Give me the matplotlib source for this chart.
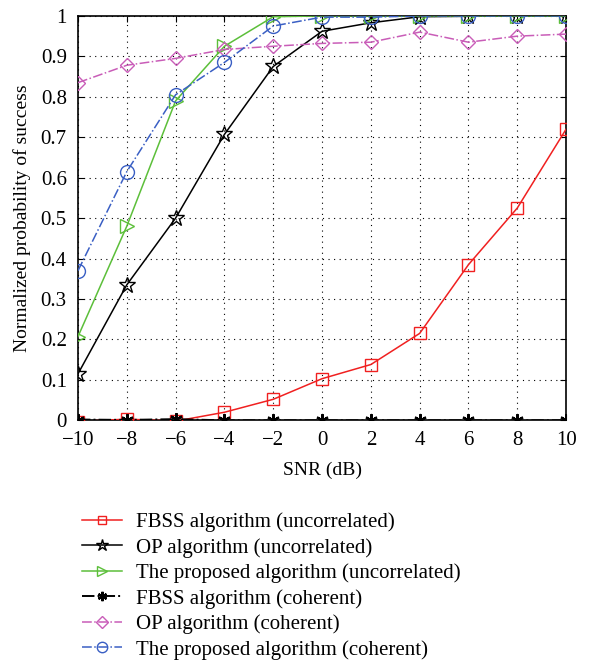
import matplotlib
matplotlib.use("Agg")
import matplotlib.pyplot as plt

snr = [-10, -8, -6, -4, -2, 0, 2, 4, 6, 8, 10]
fbss_unc = [-0.003, 0.003, -0.002, 0.02, 0.052, 0.103, 0.138, 0.215, 0.385, 0.525, 0.72]
op_unc = [0.115, 0.335, 0.5, 0.707, 0.875, 0.962, 0.983, 0.998, 0.999, 1.0, 1.0]
prop_unc = [0.207, 0.48, 0.79, 0.925, 0.998, 1.0, 1.0, 1.0, 1.0, 1.0, 1.0]
fbss_coh = [0.002, 0.001, 0.003, 0.0, 0.0, 0.0, 0.0, 0.0, 0.0, 0.0, 0.0]
op_coh = [0.835, 0.878, 0.895, 0.917, 0.925, 0.932, 0.935, 0.96, 0.935, 0.95, 0.955]
prop_coh = [0.37, 0.615, 0.805, 0.885, 0.975, 0.997, 0.997, 1.0, 1.0, 1.0, 1.0]

labels = ["FBSS algorithm (uncorrelated)", "OP algorithm (uncorrelated)",
          "The proposed algorithm (uncorrelated)", "FBSS algorithm (coherent)",
          "OP algorithm (coherent)", "The proposed algorithm (coherent)"]

plt.rcParams['font.family'] = ['Liberation Serif', 'DejaVu Serif']

fig = plt.figure(figsize=(6.14, 6.63), dpi=100)
ax = fig.add_axes([0.127, 0.366, 0.795, 0.61])

red = '#f02020'
green = '#5cbf3a'
magenta = '#c95db8'
blue = '#3a5fc4'

ax.plot(snr, fbss_unc, '-', color=red, marker='s', ms=8.5, mfc='none', mec=red, lw=1.1, label=labels[0], zorder=3)
ax.plot(snr, op_unc, '-', color='black', marker='*', ms=12, mfc='none', mec='black', lw=1.1, label=labels[1], zorder=3)
ax.plot(snr, prop_unc, '-', color=green, marker='>', ms=10, mfc='none', mec=green, lw=1.1, label=labels[2], zorder=3)
ax.plot(snr, fbss_coh, '-.', color='black', marker=(6, 2, 0), ms=9, mew=1.6, mec='black', lw=1.4, label=labels[3], zorder=3)
ax.plot(snr, op_coh, '-.', color=magenta, marker='D', ms=7.5, mfc='none', mec=magenta, lw=1.1, label=labels[4], zorder=3)
ax.plot(snr, prop_coh, '-.', color=blue, marker='o', ms=10, mfc='none', mec=blue, lw=1.1, label=labels[5], zorder=3)

ax.set_xlim(-10, 10)
ax.set_ylim(0, 1)
ax.set_xticks(snr)
ax.set_xticklabels(['\u2212' + str(-v) if v < 0 else str(v) for v in snr])
yt = [i / 10 for i in range(11)]
ax.set_yticks(yt)
ax.set_yticklabels(['0'] + ['0.%d' % i for i in range(1, 10)] + ['1'])
ax.tick_params(direction='in', labelsize=15, top=True, right=True, length=4)
ax.tick_params(axis='x', pad=8)
ax.tick_params(axis='y', pad=8)
ax.grid(True, linestyle=(0, (1, 4)), color='black', linewidth=0.8)
for s in ax.spines.values():
    s.set_linewidth(1.2)
ax.set_xlabel('SNR (dB)', fontsize=14, labelpad=8)
ax.set_ylabel('Normalized probability of success', fontsize=14, labelpad=7)

handles, labs = ax.get_legend_handles_labels()
fig.legend(handles, labs, loc='upper left', bbox_to_anchor=(0.12, 0.24),
           frameon=False, fontsize=15, handlelength=1.9, labelspacing=0.28,
           handletextpad=0.7, markerscale=0.75, borderaxespad=0)

fig.savefig('out.png', dpi=100)
